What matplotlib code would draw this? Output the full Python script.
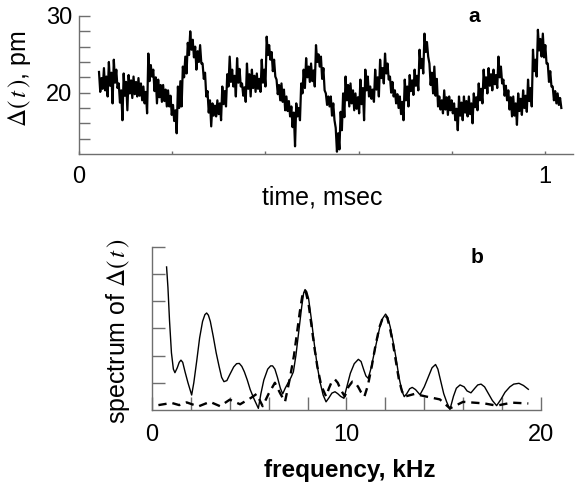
import numpy as np
import matplotlib
matplotlib.use("Agg")
import matplotlib.pyplot as plt

plt.rcParams['font.family'] = ['Liberation Sans', 'DejaVu Sans']
plt.rcParams['mathtext.fontset'] = 'stix'

# ---------------- data: panel a (time trace) ----------------
t_start, t_end = 0.043, 1.035
delta_pm = [
    22.7, 20.1, 21.9, 20.5, 23.2, 20.3, 22.1, 19.5, 24.0, 20.9, 22.6, 18.6,
    24.3, 21.3, 23.0, 20.6, 21.2, 18.7, 20.3, 16.4, 22.5, 19.6, 21.4, 17.7,
    22.3, 19.9, 21.6, 19.3, 22.1, 19.8, 21.4, 19.5, 21.9, 19.6, 21.2, 19.0,
    20.8, 18.6, 20.1, 17.3, 25.1, 21.5, 23.6, 22.1, 23.0, 20.2, 22.0, 18.6,
    21.7, 19.4, 21.0, 18.8, 21.0, 18.9, 20.4, 18.2, 20.3, 18.2, 19.6, 17.1,
    18.4, 16.3, 17.7, 14.7, 20.8, 18.0, 21.5, 18.2, 23.4, 22.0, 24.7, 22.5,
    26.5, 24.9, 28.0, 25.6, 26.9, 24.6, 26.0, 23.0, 25.4, 24.0, 26.2, 23.8,
    23.8, 21.8, 22.6, 19.5, 20.2, 17.4, 19.0, 15.6, 18.6, 17.0, 18.3, 16.9,
    19.0, 17.2, 18.6, 16.4, 20.8, 18.5, 20.2, 18.2, 22.4, 20.8, 24.7, 21.4,
    23.0, 20.8, 22.2, 19.5, 24.5, 21.3, 23.1, 20.8, 21.2, 19.6, 20.7, 18.8,
    23.8, 20.5, 22.4, 19.5, 23.0, 20.6, 22.2, 20.1, 22.5, 20.5, 21.8, 20.1,
    24.3, 21.3, 23.0, 20.8, 27.3, 24.9, 26.2, 24.3, 25.3, 22.8, 24.3, 22.1,
    21.7, 19.8, 21.0, 19.0, 21.2, 18.8, 20.4, 17.7, 19.5, 17.6, 18.9, 16.9,
    18.2, 15.5, 17.4, 13.0, 18.6, 16.9, 18.0, 16.4, 21.2, 19.9, 23.0, 20.6,
    24.5, 22.0, 23.4, 21.4, 23.8, 21.5, 22.9, 20.8, 26.2, 24.0, 25.0, 23.4,
    24.7, 21.8, 23.2, 20.3, 19.9, 18.4, 19.5, 18.2,
    19.5, 17.0, 18.6, 16.4, 15.4, 12.3, 14.7, 12.6, 17.5, 15.1, 19.9, 16.8,
    22.1, 19.0, 21.0, 18.2, 21.2, 18.6, 20.3, 17.7, 19.9, 17.9, 19.4, 17.3,
    21.7, 18.5, 20.6, 16.4, 23.0, 20.3, 22.1, 19.5, 20.8, 19.2, 20.4, 18.8,
    23.0, 20.4, 22.0, 19.5, 24.3, 21.9, 23.2, 21.2, 25.1, 22.5, 23.8, 21.7,
    22.1, 20.0, 21.4, 19.5, 20.3, 18.6, 19.8, 18.0, 19.5, 17.2, 18.8, 16.4,
    21.7, 19.0, 20.8, 18.2, 22.3, 20.2, 21.6, 19.7, 23.0, 20.9, 22.2, 20.3,
    25.6, 23.2, 24.4, 22.5, 27.7, 25.3, 26.6, 24.7, 23.8, 21.0, 22.6, 19.9,
    23.4, 19.6, 21.8, 18.2, 19.5, 17.8, 19.0, 17.3,
    20.3, 17.8, 19.4, 17.1, 19.5, 17.7, 19.0, 17.3, 18.6, 16.4, 17.9, 15.1,
    19.5, 17.0, 18.7, 16.4, 19.5, 17.4, 18.9, 16.9, 19.5, 17.2, 18.6, 16.0,
    19.9, 18.1, 19.4, 17.7, 21.2, 19.0, 20.5, 18.6, 23.0, 20.6, 22.0, 19.9,
    23.2, 20.9, 22.4, 20.3, 23.0, 21.1, 22.3, 20.6, 24.7, 22.0, 23.4, 21.2,
    21.7, 19.6, 20.9, 19.0, 20.3, 17.8, 19.4, 16.9, 19.5, 17.0, 18.6, 15.8,
    19.9, 17.6, 19.2, 17.1, 20.3, 18.0, 19.6, 17.5, 21.7, 18.9, 20.6, 18.2,
    25.6, 22.8, 24.3, 22.1, 28.2, 25.5, 27.0, 24.7, 27.7, 24.6, 26.2, 23.8,
    23.8, 21.4, 22.8, 20.8, 20.8, 19.0, 20.2, 18.6, 19.9, 18.4, 19.3, 18.0,
]
time_ms = np.linspace(t_start, t_end, len(delta_pm))

# ---------------- data: panel b (spectra) ----------------
freq_solid = [0.75, 0.82, 0.9, 1.0, 1.1, 1.18, 1.3, 1.4, 1.49, 1.58, 1.7, 1.85, 2.04,
              2.15, 2.3, 2.45, 2.6, 2.72, 2.81, 2.9, 3.0, 3.15, 3.3, 3.45, 3.58, 3.70,
              3.85, 4.0, 4.2, 4.35, 4.49, 4.62, 4.75, 4.9, 5.05, 5.25, 5.47, 5.6, 5.75,
              5.95, 6.1, 6.2, 6.32, 6.45, 6.6, 6.72, 6.85, 7.0, 7.15, 7.27, 7.4, 7.55,
              7.7, 7.8, 7.87, 7.95, 8.05, 8.2, 8.35, 8.5, 8.65, 8.8, 8.95, 9.1, 9.25,
              9.41, 9.55, 9.7, 9.87, 10.0, 10.2, 10.4, 10.61, 10.75, 10.9, 11.0, 11.12,
              11.25, 11.4, 11.55, 11.7, 11.85, 12.01, 12.12, 12.25, 12.4, 12.55, 12.7,
              12.85, 12.97, 13.1, 13.25, 13.38, 13.55, 13.78, 14.0, 14.2, 14.4, 14.58,
              14.7, 14.85, 15.0, 15.15, 15.32, 15.5, 15.65, 15.84, 16.05, 16.2, 16.40,
              16.6, 16.75, 16.92, 17.1, 17.3, 17.5, 17.72, 17.95, 18.15, 18.4, 18.6,
              18.87, 19.1, 19.35]
spec_solid = [5.25, 4.5, 3.3, 2.1, 1.5, 1.37, 1.55, 1.75, 1.83, 1.75, 1.4, 1.0, 0.55,
              1.0, 1.8, 2.65, 3.25, 3.5, 3.56, 3.48, 3.25, 2.7, 2.1, 1.6, 1.2, 1.04,
              1.08, 1.3, 1.58, 1.7, 1.71, 1.6, 1.4, 1.1, 0.75, 0.4, 0.06, 0.6, 1.1,
              1.5, 1.62, 1.62, 1.5, 1.2, 0.8, 0.59, 0.8, 1.0, 1.2, 1.4, 2.0, 2.9,
              3.8, 4.3, 4.42, 4.35, 4.1, 3.3, 2.4, 1.6, 1.0, 0.55, 0.30, 0.45, 0.62,
              0.67, 0.6, 0.5, 0.43, 0.8, 1.35, 1.7, 1.86, 1.78, 1.45, 1.25, 1.16,
              1.5, 2.0, 2.5, 3.0, 3.35, 3.52, 3.4, 3.05, 2.5, 1.9, 1.2,
              0.7, 0.49, 0.6, 0.78, 0.83, 0.75, 0.56, 0.85, 1.2, 1.55, 1.67,
              1.5, 1.05, 0.6, 0.3, 0.02, 0.5, 0.8, 0.92, 0.85, 0.7, 0.63,
              0.8, 0.92, 0.95, 0.85, 0.6, 0.35, 0.16, 0.4, 0.65, 0.85, 0.95,
              0.98, 0.9, 0.76]

freq_dash = [0.33, 1.01, 1.4, 1.78, 2.38, 2.98, 3.5, 4.0, 4.53, 5.1, 5.38, 5.69,
             6.0, 6.32, 6.6, 6.84, 7.1, 7.3, 7.45, 7.6, 7.72, 7.82, 7.92, 8.05, 8.2,
             8.35, 8.5, 8.7, 8.95, 9.1, 9.25, 9.41, 9.55, 9.7, 9.91, 10.1, 10.3, 10.45,
             10.6, 10.75, 10.92, 11.1, 11.3, 11.5, 11.7, 11.85, 11.98, 12.1, 12.25,
             12.4, 12.55, 12.7, 12.85, 12.99, 13.5, 14.12, 14.8, 15.32, 16.0, 17.1,
             17.72, 18.5, 19.35]
spec_dash = [0.18, 0.26, 0.18, 0.28, 0.13, 0.30, 0.14, 0.38, 0.21, 0.45, 0.59, 0.14,
             0.6, 1.0, 0.6, 0.30, 1.2, 2.0, 2.8, 3.6, 4.15, 4.38, 4.3, 3.9, 3.1,
             2.3, 1.6, 0.9, 0.5, 0.8, 1.05, 1.12, 1.0, 0.75, 0.5, 0.85, 1.04, 1.0,
             0.85, 0.65, 0.49, 0.9, 1.6, 2.4, 3.05, 3.35, 3.48, 3.38, 2.95,
             2.4, 1.75, 1.1, 0.7, 0.49, 0.59, 0.49, 0.39, 0.06, 0.30, 0.24,
             0.16, 0.27, 0.24]

top_yticks = [14, 16, 18, 20, 22, 24, 26, 28, 30]
top_ylabels = ['', '', '', '20', '', '', '', '', '30']
top_xticks = [0, 0.2, 0.4, 0.6, 0.8, 1.0]
top_xlabels = ['0', '', '', '', '', '1']
bot_xticks = [0, 2, 4, 6, 8, 10, 12, 14, 16, 18, 20]
bot_xlabels = ['0', '', '', '', '', '10', '', '', '', '', '20']
bot_yticks = [1, 2, 3, 4, 5, 6]

spine_c = '#6e6e6e'

fig = plt.figure(figsize=(5.79, 4.87), dpi=100)

# ---------------- panel a ----------------
ax1 = fig.add_axes([0.1364, 0.6838, 0.8532, 0.2834])
ax1.plot(time_ms, delta_pm, color='black', lw=1.6)
ax1.set_xlim(0, 1.06)
ax1.set_ylim(12, 30)
for s in ['top', 'right']:
    ax1.spines[s].set_visible(False)
for s in ['left', 'bottom']:
    ax1.spines[s].set_color(spine_c)
    ax1.spines[s].set_linewidth(1.0)
ax1.set_yticks(top_yticks)
ax1.set_yticklabels(top_ylabels)
ax1.set_xticks(top_xticks)
ax1.set_xticklabels(top_xlabels)
ax1.tick_params(axis='y', direction='in', length=8, width=1.0, color=spine_c,
                labelsize=17, pad=5)
ax1.tick_params(axis='x', direction='in', length=2, width=1.0, color=spine_c,
                labelsize=17, pad=9)
ax1.set_xlabel('time, msec', fontsize=18)
ax1.xaxis.set_label_coords(0.492, -0.225)
ax1.set_ylabel(r'$\Delta(\,t\,)$, pm', fontsize=18)
ax1.yaxis.set_label_coords(-0.093, 0.543)
ax1.text(0.80, 0.995, 'a', transform=ax1.transAxes, fontsize=15,
         fontweight='bold', ha='center', va='center')

# ---------------- panel b ----------------
ax2 = fig.add_axes([0.2625, 0.1581, 0.6718, 0.3357])
ax2.plot(freq_solid, spec_solid, color='black', lw=1.0)
ax2.plot(freq_dash, spec_dash, color='black', lw=1.7, dashes=(3.5, 2.5))
ax2.set_xlim(0, 20)
ax2.set_ylim(0, 6)
for s in ['top', 'right']:
    ax2.spines[s].set_visible(False)
for s in ['left', 'bottom']:
    ax2.spines[s].set_color(spine_c)
    ax2.spines[s].set_linewidth(1.0)
ax2.set_xticks(bot_xticks)
ax2.set_xticklabels(bot_xlabels)
ax2.set_yticks(bot_yticks)
ax2.set_yticklabels([])
ax2.tick_params(axis='both', direction='in', length=9.5, width=1.0, color=spine_c,
                labelsize=17)
ax2.tick_params(axis='x', pad=10)
ax2.set_xlabel('frequency, kHz', fontsize=17.5, fontweight='bold')
ax2.xaxis.set_label_coords(0.509, -0.300)
ax2.set_ylabel(r'spectrum of $\Delta(\,t\,)$', fontsize=18)
ax2.yaxis.set_label_coords(-0.051, 0.483)
ax2.text(0.835, 0.935, 'b', transform=ax2.transAxes, fontsize=15,
         fontweight='bold', ha='center', va='center')

fig.savefig('out.png', dpi=100)
